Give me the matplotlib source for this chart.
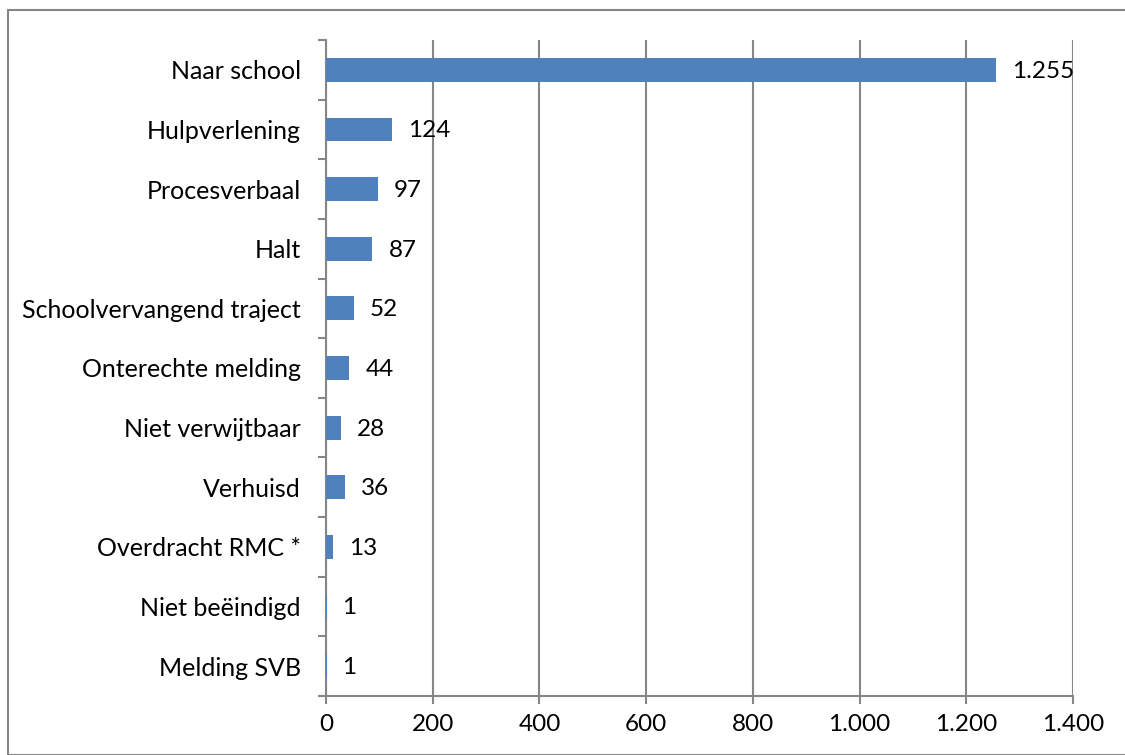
import matplotlib.pyplot as plt
import numpy as np
from matplotlib.patches import Rectangle

categories = ['Naar school', 'Hulpverlening', 'Procesverbaal', 'Halt',
              'Schoolvervangend traject', 'Onterechte melding', 'Niet verwijtbaar',
              'Verhuisd', 'Overdracht RMC *', 'Niet beëindigd', 'Melding SVB']
values = [1255, 124, 97, 87, 52, 44, 28, 36, 13, 1, 1]
xticks = [0, 200, 400, 600, 800, 1000, 1200, 1400]

plt.rcParams['font.family'] = ['Lato', 'DejaVu Sans']
grey = '#868686'
fs = 17.5

fig = plt.figure(figsize=(11.25, 7.55), dpi=100)
ax = fig.add_axes([326 / 1125, 1 - 696 / 755, 747 / 1125, 656 / 755])

fig.patches.append(Rectangle((8 / 1125, 0), 1.2, 1 - 10 / 755, transform=fig.transFigure,
                             fill=False, edgecolor=grey, linewidth=1.5))

y = np.arange(len(categories))
ax.barh(y, values, height=0.4, color='#4f81bd', zorder=3)
for yi, v in zip(y, values):
    ax.annotate(f'{v:,}'.replace(',', '.'), (v, yi), xytext=(11.5, -1), textcoords='offset points',
                va='center', ha='left', fontsize=fs)

ax.set_xlim(0, 1400)
ax.set_ylim(len(categories) - 0.5, -0.5)
ax.set_xticks(xticks)
ax.set_xticklabels([f'{t:,}'.replace(',', '.') for t in xticks], fontsize=fs)
ax.set_yticks(y)
ax.set_yticklabels(categories, fontsize=18)
ax.set_yticks(np.arange(-0.5, len(categories) + 0.5, 1), minor=True)
ax.tick_params(axis='y', which='major', length=0, pad=18)
ax.tick_params(axis='y', which='minor', length=6, color=grey, width=1.5)
ax.tick_params(axis='x', length=6, color=grey, width=1.5, pad=7)
ax.grid(axis='x', color=grey, linewidth=1.5, zorder=0)
for s in ['top', 'right']:
    ax.spines[s].set_visible(False)
for s in ['left', 'bottom']:
    ax.spines[s].set_color(grey)
    ax.spines[s].set_linewidth(1.5)

fig.savefig('out.png', dpi=100)
